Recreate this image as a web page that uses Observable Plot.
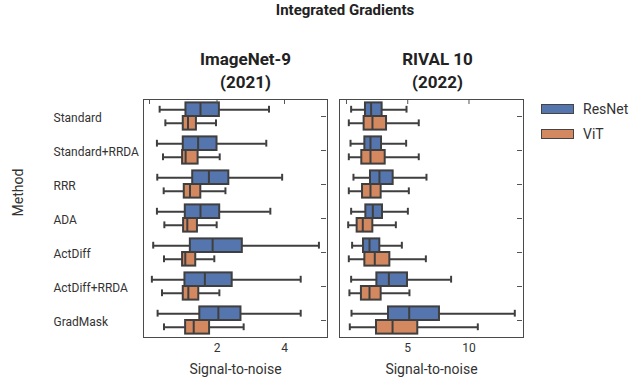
<!DOCTYPE html>
<html><head><meta charset="utf-8">
<script src="https://cdn.jsdelivr.net/npm/d3@7"></script>
<script src="https://cdn.jsdelivr.net/npm/@observablehq/plot@0.6"></script>
<style>
body{margin:0;background:#fff;}
#root{position:relative;width:640px;height:387px;overflow:hidden;font-family:Roboto,sans-serif;}
#root svg{position:absolute;left:0;top:0;}
#title{position:absolute;top:1px;left:345px;transform:translateX(-50%);font-weight:bold;font-size:15px;font-family:Roboto,sans-serif;white-space:nowrap;color:#222;line-height:18px;}
.leg{position:absolute;left:541px;display:flex;align-items:center;font-size:14px;color:#333;}
.sw{width:31px;height:8px;border:1.5px solid #444;margin-right:9px;}
</style></head><body><div id="root"><div id="title">Integrated Gradients</div></div>
<script>
const methods = ["Standard", "Standard+RRDA", "RRR", "ADA", "ActDiff", "ActDiff+RRDA", "GradMask"];
const models = ["ResNet", "ViT"];
const colors = ["#5575ae", "#d4885f"];
const panelTitles = ["ImageNet-9\n(2021)", "RIVAL 10\n(2022)"];
const xLabel = "Signal-to-noise";
const yLabel = "Method";
const mainTitle = "Integrated Gradients";
// [whisker low, Q1, median, Q3, whisker high]
const inetResNet = [[0.30,1.08,1.51,2.07,3.54],[0.22,1.00,1.44,2.00,3.46],[0.23,1.28,1.76,2.35,3.93],[0.22,1.06,1.51,2.08,3.58],[0.11,1.21,1.87,2.75,5.02],[0.07,1.05,1.64,2.45,4.48],[0.24,1.49,2.04,2.71,4.48]];
const inetViT = [[0.47,1.00,1.14,1.39,1.97],[0.40,0.98,1.07,1.44,2.08],[0.42,1.03,1.20,1.52,2.25],[0.44,1.01,1.12,1.42,1.99],[0.43,0.98,1.06,1.37,1.92],[0.37,1.00,1.15,1.46,2.07],[0.43,1.07,1.31,1.78,2.79]];
const rivalResNet = [[0.38,1.55,2.01,2.91,4.90],[0.33,1.50,1.96,2.86,4.87],[0.57,1.96,2.69,3.81,6.53],[0.38,1.58,2.15,2.94,5.01],[0.46,1.39,1.88,2.72,4.52],[0.38,2.48,3.46,4.98,8.54],[0.41,3.43,5.12,7.59,13.74]];
const rivalViT = [[0.19,1.44,2.12,3.27,5.90],[0.19,1.25,1.96,3.16,5.90],[0.19,1.31,1.96,2.83,5.09],[0.14,0.87,1.33,2.15,4.03],[0.19,1.50,2.31,3.54,6.48],[0.24,1.22,1.88,2.83,5.14],[0.27,2.45,3.76,5.82,10.72]];
const inetTickMarks = [0, 2, 4];
const inetTickLabels = [2, 4];
const rivalTickMarks = [0, 5, 10];
const rivalTickLabels = [5, 10];

const edge = "#3f3f3f";
const W = 640, H = 387, MT = 99, MB = 50;

function panel({title, series, xDomain, tickMarks, tickLabels, marginLeft, marginRight, titleDx, showY}) {
  const frameH = H - MT - MB;
  const bw = frameH / methods.length;
  const frameW = W - marginLeft - marginRight;
  const marks = [];
  series.forEach((arr, k) => {
    const d = arr.map((s, i) => ({method: methods[i], model: models[k], lo: s[0], q1: s[1], med: s[2], q3: s[3], hi: s[4]}));
    const top = k === 0 ? 0.1 : 0.5, bot = k === 0 ? 0.5 : 0.1;
    const off = (k === 0 ? -0.2 : 0.2) * bw;
    const capTop = k === 0 ? 0.2 : 0.6, capBot = k === 0 ? 0.6 : 0.2;
    marks.push(
      Plot.ruleY(d, {y: "method", x1: "lo", x2: "hi", dy: off, stroke: edge, strokeWidth: 2}),
      Plot.tickX(d, {x: "lo", y: "method", insetTop: capTop * bw, insetBottom: capBot * bw, stroke: edge, strokeWidth: 2}),
      Plot.tickX(d, {x: "hi", y: "method", insetTop: capTop * bw, insetBottom: capBot * bw, stroke: edge, strokeWidth: 2}),
      Plot.barX(d, {x1: "q1", x2: "q3", y: "method", fill: colors[k], stroke: edge, strokeWidth: 2, insetTop: top * bw, insetBottom: bot * bw}),
      Plot.tickX(d, {x: "med", y: "method", insetTop: top * bw, insetBottom: bot * bw, stroke: edge, strokeWidth: 2})
    );
  });
  marks.push(
    Plot.ruleX(tickMarks, {x: d => d, insetBottom: frameH - 5, stroke: "#555"}),
    Plot.ruleY(methods, {y: d => d, insetLeft: frameW - 6, insetRight: 1, stroke: "#555"}),
    Plot.frame({stroke: "#4a4a4a", strokeWidth: 1}),
    Plot.axisX(tickLabels, {anchor: "bottom", tickSize: 0, tickPadding: 6, fontSize: 12, fill: "#333", label: null}),
    Plot.text([xLabel], {text: d => d, frameAnchor: "bottom", dy: 36, fontSize: 14, fill: "#333"}),
    Plot.text([title], {text: d => d, frameAnchor: "top", dx: titleDx, dy: -12, lineAnchor: "bottom", lineHeight: 1.3, fontSize: 17, fontWeight: "bold", fill: "#222"})
  );
  if (showY) {
    marks.push(
      Plot.axisY({anchor: "left", tickSize: 0, tickPadding: 0, textAnchor: "start", dx: -(marginLeft - 53), dy: 1.5, fontSize: 12, fill: "#333", label: null}),
      Plot.text([yLabel], {text: d => d, frameAnchor: "left", dx: -125, dy: -2, rotate: -90, fontSize: 14, fill: "#333"})
    );
  }
  return Plot.plot({
    width: W, height: H,
    marginLeft, marginRight, marginTop: MT, marginBottom: MB,
    style: {background: "transparent", fontFamily: "Roboto, sans-serif", fontSize: "12px", color: "#333"},
    x: {domain: xDomain, axis: null},
    y: {domain: methods, padding: 0, axis: null},
    marks
  });
}

const root = document.getElementById("root");
root.appendChild(panel({title: panelTitles[0], series: [inetResNet, inetViT], xDomain: [-0.178, 5.274], tickMarks: inetTickMarks, tickLabels: inetTickLabels, marginLeft: 143, marginRight: W - 327, titleDx: 10, showY: true}));
root.appendChild(panel({title: panelTitles[1], series: [rivalResNet, rivalViT], xDomain: [-0.57, 14.45], tickMarks: rivalTickMarks, tickLabels: rivalTickLabels, marginLeft: 339, marginRight: W - 523, titleDx: 6, showY: false}));

models.forEach((m, k) => {
  const el = document.createElement("div");
  el.className = "leg";
  el.style.top = (k === 0 ? 101 : 125.5) + "px";
  el.innerHTML = `<div class="sw" style="background:${colors[k]}"></div><span>${m}</span>`;
  root.appendChild(el);
});
</script>
</body></html>
